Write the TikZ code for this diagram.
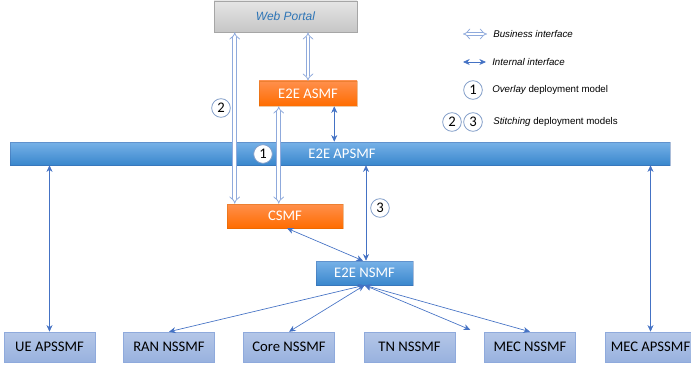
\documentclass[tikz,border=0pt]{standalone}
\usepackage{fontspec}
\setmainfont{Carlito}
\newfontfamily\legfont{Liberation Sans}
\usetikzlibrary{arrows.meta}
\usetikzlibrary{calc}
\usetikzlibrary{positioning}

\definecolor{linkblue}{HTML}{4472C4}
\definecolor{bizblue}{HTML}{8FAADC}
\definecolor{ringblue}{HTML}{7F9BC7}
\definecolor{portalblue}{HTML}{2E75B6}

\begin{document}
\begin{tikzpicture}[x=0.75pt, y=-0.75pt,
	mainbox/.style={draw=#1!80!black, draw opacity=0.35, text=white, font=\fontsize{11}{12}\selectfont, inner sep=0pt},
	bluebox/.style={mainbox=linkblue, top color=blue!35!cyan!40!white!60!linkblue, bottom color=linkblue!85!cyan},
	orangebox/.style={mainbox=orange, top color=orange!75!red!70!white, bottom color=orange!85!red},
	leaf/.style={draw=linkblue!60, top color=linkblue!40!white, bottom color=linkblue!55!white, text=black, font=\fontsize{11}{12}\selectfont, minimum width=68.25pt, minimum height=22.5pt, inner sep=0pt},
	num/.style={circle, draw=ringblue, line width=0.6pt, fill=white, minimum size=14pt, inner sep=0pt, font=\fontsize{11}{12}\selectfont},
	legtext/.style={anchor=west, inner sep=0pt, font=\legfont\fontsize{7.3}{8}\selectfont\itshape},
	internal/.style={draw=linkblue, line width=0.5pt, {Stealth[length=5pt,width=4.5pt]}-{Stealth[length=5pt,width=4.5pt]}},
	business/.style={draw=bizblue, line width=0.6pt, double=white, double distance=2.2pt, {Implies}-{Implies}}]

	\useasboundingbox (0,0) rectangle (691,367);

	% top part
	\node[draw=gray!70, top color=gray!20, bottom color=gray!45, minimum width=107.25pt, minimum height=23.25pt, inner sep=0pt, text=portalblue, font=\legfont\fontsize{9}{10}\selectfont\itshape] (wp) at (285.5,16.5) {Web Portal};
	\node[orangebox, minimum width=73.5pt, minimum height=18.75pt] (asmf) at (308,93.5) {E2E ASMF};
	\node[bluebox, minimum width=495pt, minimum height=17.25pt] (apsmf) at (340,153.5) {};
	\node[font=\fontsize{11}{12}\selectfont, text=white] (apsmflbl) at (342,153.5) {E2E APSMF};
	\node[orangebox, minimum width=87pt, minimum height=18pt] (csmf) at (285,216) {CSMF};
	\node[bluebox, minimum width=72.75pt, minimum height=18pt] (nsmf) at (364.5,273) {E2E NSMF};

	% bottom row
	\foreach \x/\n/\t in {49.5/ue/UE APSSMF, 169/ran/RAN NSSMF, 289/core/Core NSSMF, 409.5/tn/TN NSSMF, 530/mec/MEC NSSMF, 650.5/mecap/MEC APSSMF}{
		\node[leaf] (\n) at (\x,347) {\t};
	}

	% business interfaces
	\draw[business] ($(csmf.north west)+(8,0)$) coordinate (b1) -- (b1 |- wp.south);
	\draw[business] (asmf.north) -- (asmf.north |- wp.south);
	\draw[business] ($(asmf.south west)+(20,0)$) coordinate (b2) -- (b2 |- csmf.north);

	% internal interfaces
	\draw[internal] ($(asmf.south east)+(-23,0)$) coordinate (i1) -- (i1 |- apsmf.north);
	\draw[internal] (ue.north) -- (ue.north |- apsmf.south);
	\draw[internal] (mecap.north) -- (mecap.north |- apsmf.south);
	\draw[internal] ($(nsmf.north)+(1.5,0)$) coordinate (i2) -- (i2 |- apsmf.south);
	\draw[internal] ($(csmf.south)+(2,0)$) -- ($(nsmf.north)+(-1.5,0)$);
	\foreach \n in {ran, core, mec}{
		\draw[internal] (nsmf.south) -- (\n.north);
	}
	\draw[internal] (nsmf.south) -- ($(tn.north east)+(15,-2)$) coordinate (tnend);

	% deployment model marks
	\node[num] (m2) at (221,108) {2};
	\node[num] (m1) at (263,154) {1};
	\node[num] (m3) at (380,208) {3};

	% legend
	\coordinate (lb1) at (463,34);
	\coordinate (lb2) at (487,34);
	\draw[business] (lb1) -- (lb2);
	\node[legtext] (lbiz) at (493,34) {Business interface};
	\coordinate (li1) at (463,62);
	\coordinate (li2) at (486,62);
	\draw[internal] (li1) -- (li2);
	\node[legtext] (lint) at (492,62) {Internal interface};
	\node[num] (lm1) at (473,90) {1};
	\node[legtext] (lover) at (492,90) {Overlay\upshape{} deployment model};
	\node[num] (lm2) at (452,122) {2};
	\node[num] (lm3) at (473,122) {3};
	\node[legtext] (lstitch) at (493,122) {Stitching\upshape{} deployment models};

\end{tikzpicture}
\end{document}
